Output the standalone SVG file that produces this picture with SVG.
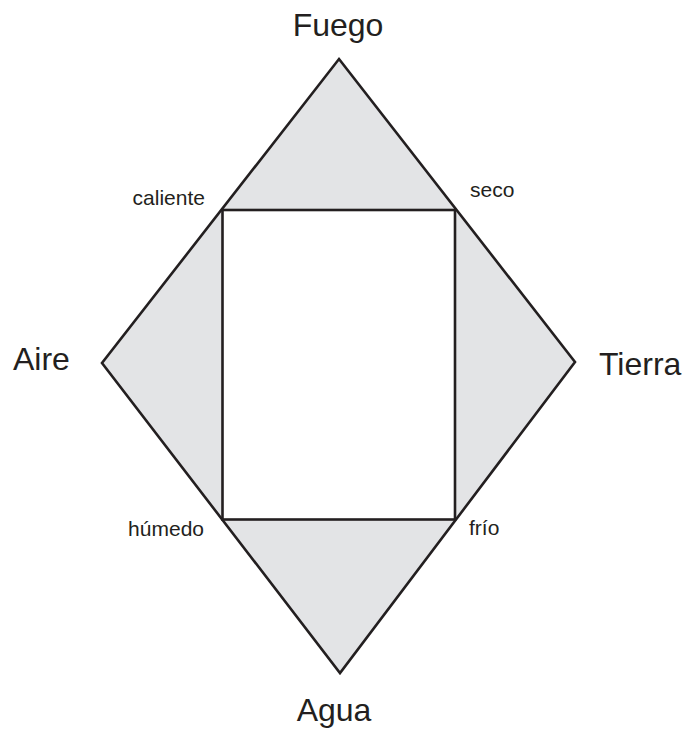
<svg xmlns="http://www.w3.org/2000/svg" width="685" height="729" viewBox="0 0 685 729">
<style>
.shape{stroke:#231f20;stroke-width:2.6;stroke-linejoin:miter}
.big{font-family:"Liberation Sans",Arial,sans-serif;font-size:32px;fill:#231f20}
.small{font-family:"Liberation Sans",Arial,sans-serif;font-size:21px;fill:#231f20}
</style>
<rect width="685" height="729" fill="#ffffff"/>
<g id="diamond">
<polygon class="shape" points="339,59 575,362 340,673 102,363" fill="#e3e4e6"/>
</g>
<g id="square">
<rect class="shape" x="222.5" y="210" width="232.5" height="309.5" fill="#ffffff"/>
</g>
<g id="fuego"><text class="big" x="338" y="36" text-anchor="middle" font-size="31">Fuego</text></g>
<g id="aire"><text class="big" x="13" y="370">Aire</text></g>
<g id="tierra"><text class="big" x="599" y="375">Tierra</text></g>
<g id="agua"><text class="big" x="334" y="721" text-anchor="middle">Agua</text></g>
<g id="caliente"><text class="small" x="205" y="205" text-anchor="end">caliente</text></g>
<g id="seco"><text class="small" x="470" y="197">seco</text></g>
<g id="humedo"><text class="small" x="204" y="536" text-anchor="end">húmedo</text></g>
<g id="frio"><text class="small" x="469" y="535">frío</text></g>
<g id="connectors"></g>
</svg>
